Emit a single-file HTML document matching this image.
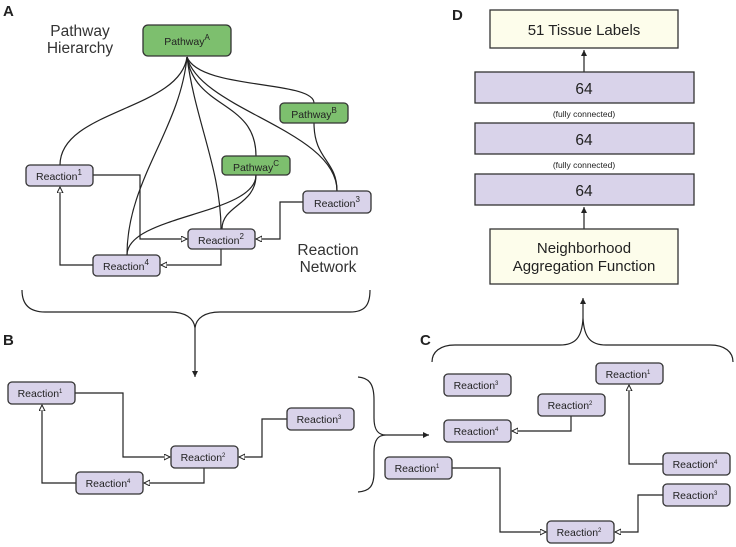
<!DOCTYPE html>
<html><head><meta charset="utf-8"><style>
body{margin:0;background:#fff}
svg{display:block;font-family:"Liberation Sans",sans-serif}
.r{fill:#d9d3ea;stroke:#333;stroke-width:1.3}
.g{fill:#7dbf6e;stroke:#333;stroke-width:1.3}
.y{fill:#fdfdeb;stroke:#333;stroke-width:1.3}
.l{fill:none;stroke:#222;stroke-width:1.2}
.t{font-size:10.5px;fill:#222;text-anchor:middle}
.s{font-size:6px}
</style></head><body>
<svg width="736" height="547" viewBox="0 0 736 547">
<defs>
<marker id="o" markerWidth="8" markerHeight="8" refX="6" refY="3" orient="auto" markerUnits="userSpaceOnUse"><path d="M0,0 L6,3 L0,6 Z" fill="#fff" stroke="#222" stroke-width="1"/></marker>
<marker id="f" markerWidth="8" markerHeight="8" refX="6" refY="3" orient="auto" markerUnits="userSpaceOnUse"><path d="M0,0 L6,3 L0,6 Z" fill="#222"/></marker>
</defs>
<g font-weight="bold" font-size="15" fill="#222"><text x="3" y="16">A</text><text x="3" y="345">B</text><text x="420" y="345">C</text><text x="452" y="20">D</text></g>
<text x="80" y="36" font-size="15.5" fill="#333" text-anchor="middle">Pathway</text>
<text x="80" y="53" font-size="15.5" fill="#333" text-anchor="middle">Hierarchy</text>
<text x="328" y="255" font-size="15.5" fill="#333" text-anchor="middle">Reaction</text>
<text x="328" y="272" font-size="15.5" fill="#333" text-anchor="middle">Network</text>
<g class="l">
<path d="M187,57 C180,110 60,110 60,165"/>
<path d="M187,57 C180,130 127,180 127,255"/>
<path d="M187,57 C195,120 221,170 221,229"/>
<path d="M187,57 C195,110 256,100 256,156"/>
<path d="M187,57 C200,110 337,130 337,191"/>
<path d="M187,57 C200,90 314,80 314,103"/>
<path d="M256,175 C256,205 222,205 222,229"/>
<path d="M256,175 C256,215 127,215 127,255"/>
<path d="M314,123 C314,160 337,160 337,191"/>
</g>
<g class="l">
<path d="M93,175 H140 V239 H187" marker-end="url(#o)"/>
<path d="M303,202 H280 V239 H256" marker-end="url(#o)"/>
<path d="M221,249 V265 H161" marker-end="url(#o)"/>
<path d="M93,265 H60 V187" marker-end="url(#o)"/>
</g>
<rect class="g" x="143" y="25" width="88" height="31" rx="5"/><text class="t" x="187" y="45">Pathway<tspan dy="-5" font-size="8">A</tspan></text>
<rect class="g" x="280" y="103" width="68" height="20" rx="4"/><text class="t" x="314" y="118">Pathway<tspan dy="-5" font-size="8">B</tspan></text>
<rect class="g" x="222" y="156" width="68" height="19" rx="4"/><text class="t" x="256" y="171">Pathway<tspan dy="-5" font-size="8">C</tspan></text>
<g>
<rect class="r" x="26" y="165" width="67" height="21" rx="4"/><text class="t" x="59" y="180">Reaction<tspan dy="-5" font-size="8">1</tspan></text>
<rect class="r" x="303" y="191" width="68" height="22" rx="4"/><text class="t" x="337" y="207">Reaction<tspan dy="-5" font-size="8">3</tspan></text>
<rect class="r" x="188" y="229" width="67" height="20" rx="4"/><text class="t" x="221" y="244">Reaction<tspan dy="-5" font-size="8">2</tspan></text>
<rect class="r" x="93" y="255" width="67" height="21" rx="4"/><text class="t" x="126" y="270">Reaction<tspan dy="-5" font-size="8">4</tspan></text>
</g>
<path class="l" d="M22,290 C22,305 30,312 45,312 H170 C185,312 194,318 195,328 C196,318 205,312 220,312 H350 C365,312 370,305 370,290"/>
<path class="l" d="M195,328 V377" marker-end="url(#f)"/>
<g class="l">
<path d="M75,393 H123 V457 H170" marker-end="url(#o)"/>
<path d="M287,419 H262 V457 H239" marker-end="url(#o)"/>
<path d="M204,468 V483 H144" marker-end="url(#o)"/>
<path d="M76,483 H42 V405" marker-end="url(#o)"/>
</g>
<g>
<rect class="r" x="8" y="382" width="67" height="22" rx="4"/><text class="t" x="40" y="397">Reaction<tspan dy="-4" class="s">1</tspan></text>
<rect class="r" x="171" y="446" width="67" height="22" rx="4"/><text class="t" x="203" y="461">Reaction<tspan dy="-4" class="s">2</tspan></text>
<rect class="r" x="287" y="408" width="67" height="22" rx="4"/><text class="t" x="319" y="423">Reaction<tspan dy="-4" class="s">3</tspan></text>
<rect class="r" x="76" y="472" width="67" height="22" rx="4"/><text class="t" x="108" y="487">Reaction<tspan dy="-4" class="s">4</tspan></text>
</g>
<path class="l" d="M358,377 C370,378 374,385 374,400 V418 C374,430 378,435 386,435 C378,435 374,440 374,452 V472 C374,486 370,491 358,492"/>
<path class="l" d="M386,435 H429" marker-end="url(#f)"/>
<!-- C brace -->
<path class="l" d="M432,362 C432,352 440,345 455,345 H560 C575,345 582,338 583,318 C584,338 591,345 606,345 H710 C725,345 733,352 733,362"/>
<path class="l" d="M583,318 V298" marker-end="url(#f)"/>
<g class="l">
<path d="M571,416 V431 H512" marker-end="url(#o)"/>
<path d="M663,464 H629 V385" marker-end="url(#o)"/>
<path d="M452,468 H500 V532 H546" marker-end="url(#o)"/>
<path d="M663,495 H638 V532 H615" marker-end="url(#o)"/>
</g>
<g>
<rect class="r" x="444" y="374" width="67" height="22" rx="4"/><text class="t" x="476" y="389">Reaction<tspan dy="-4" class="s">3</tspan></text>
<rect class="r" x="538" y="394" width="67" height="22" rx="4"/><text class="t" x="570" y="409">Reaction<tspan dy="-4" class="s">2</tspan></text>
<rect class="r" x="444" y="420" width="67" height="22" rx="4"/><text class="t" x="476" y="435">Reaction<tspan dy="-4" class="s">4</tspan></text>
<rect class="r" x="596" y="363" width="67" height="21" rx="4"/><text class="t" x="628" y="378">Reaction<tspan dy="-4" class="s">1</tspan></text>
<rect class="r" x="663" y="453" width="67" height="22" rx="4"/><text class="t" x="695" y="468">Reaction<tspan dy="-4" class="s">4</tspan></text>
<rect class="r" x="385" y="457" width="67" height="22" rx="4"/><text class="t" x="417" y="472">Reaction<tspan dy="-4" class="s">1</tspan></text>
<rect class="r" x="663" y="484" width="67" height="22" rx="4"/><text class="t" x="695" y="499">Reaction<tspan dy="-4" class="s">3</tspan></text>
<rect class="r" x="547" y="521" width="67" height="22" rx="4"/><text class="t" x="579" y="536">Reaction<tspan dy="-4" class="s">2</tspan></text>
</g>
<rect class="y" x="490" y="10" width="188" height="38"/><text x="584" y="35" font-size="15" fill="#222" text-anchor="middle">51 Tissue Labels</text>
<path class="l" d="M584,72 V50" marker-end="url(#f)"/>
<rect class="r" x="475" y="72" width="219" height="31"/><text x="584" y="94" font-size="15.5" fill="#222" text-anchor="middle">64</text>
<text x="584" y="117" font-size="8.5" fill="#222" text-anchor="middle">(fully connected)</text>
<rect class="r" x="475" y="123" width="219" height="31"/><text x="584" y="145" font-size="15.5" fill="#222" text-anchor="middle">64</text>
<text x="584" y="168" font-size="8.5" fill="#222" text-anchor="middle">(fully connected)</text>
<rect class="r" x="475" y="174" width="219" height="31"/><text x="584" y="196" font-size="15.5" fill="#222" text-anchor="middle">64</text>
<path class="l" d="M584,229 V207" marker-end="url(#f)"/>
<rect class="y" x="490" y="229" width="188" height="55"/>
<text x="584" y="253" font-size="15" fill="#222" text-anchor="middle">Neighborhood</text>
<text x="584" y="271" font-size="15" fill="#222" text-anchor="middle">Aggregation Function</text>
</svg>
</body></html>
